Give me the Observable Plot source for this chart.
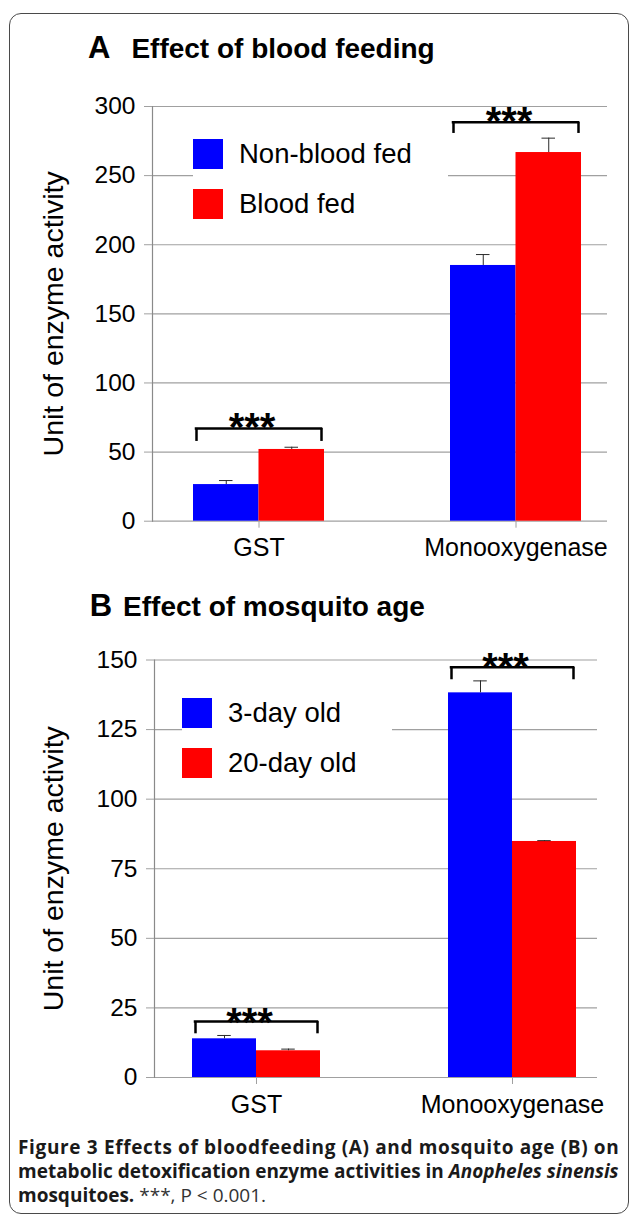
<!DOCTYPE html>
<html><head><meta charset="utf-8">
<script src="https://cdn.jsdelivr.net/npm/d3@7"></script>
<script src="https://cdn.jsdelivr.net/npm/@observablehq/plot@0.6"></script>
<style>
html,body{margin:0;padding:0;background:#fff;}
#page{position:relative;width:630px;height:1217px;overflow:hidden;font-family:"Liberation Sans",Arial,sans-serif;}
.frame{position:absolute;left:9px;top:13px;width:620px;height:1201px;border:1.5px solid #4a4a4a;border-radius:12px;box-sizing:border-box;}
.title{position:absolute;font-weight:bold;font-size:31px;line-height:1;color:#000;white-space:nowrap;}
.title span{font-size:28px;}
.chart{position:absolute;left:0;}
.chart svg{overflow:visible;}
.chart g[aria-label="y-axis label"]{font-size:28.5px;}
.leg{position:absolute;background:#fff;padding:14px 36px 0 0;}
.leg .lega-swatches,.leg .legb-swatches{font-family:"Liberation Sans",Arial,sans-serif;font-size:27.5px;color:#000;margin:0;}
.leg .lega-swatch,.leg .legb-swatch{padding-bottom:20px;}
.leg .lega-swatch > svg,.leg .legb-swatch > svg{margin-right:16px;}
.leg .lega-swatch-label,.leg .legb-swatch-label{line-height:30px;overflow:visible;}
.caption{position:absolute;left:18px;top:1135px;font-family:"Open Sans",Lato,sans-serif;font-size:19px;line-height:24px;color:#1a1a1a;white-space:nowrap;font-weight:bold;}
.caption .l1{letter-spacing:0.65px;}
.caption .reg{font-weight:normal;color:#333;}
</style>
</head><body>
<div id="page">
  <div class="frame"></div>
  <div class="title" style="left:88px;top:32px;">A<span style="margin-left:21px;">Effect of blood feeding</span></div>
  <div class="title" style="left:89.7px;top:590.4px;">B<span style="margin-left:11px;">Effect of mosquito age</span></div>
  <div class="chart" id="chartA" style="top:80px;"></div>
  <div class="chart" id="chartB" style="top:634px;"></div>
  <div class="leg" id="legA" style="left:193px;top:125px;"></div>
  <div class="leg" id="legB" style="left:182px;top:684px;"></div>
  <div class="caption"><span class="l1">Figure 3 Effects of bloodfeeding (A) and mosquito age (B) on</span><br>metabolic detoxification enzyme activities in <i>Anopheles sinensis</i><br>mosquitoes. <span class="reg">***, P &lt; 0.001.</span></div>
</div>
<script>
// ---- data ----
const categories = ["GST", "Monooxygenase"];
const colors = ["#0000FF", "#FF0000"];

// Panel A: effect of blood feeding
const seriesA = ["Non-blood fed", "Blood fed"];
const nonBloodFed = [26.5, 185.0];
const nonBloodFedErr = [2.9, 7.9];
const bloodFed = [51.9, 266.7];
const bloodFedErr = [1.6, 10.4];
const bracketTopA = [67.1, 288.6];
const bracketBaseA = [57.7, 280.5];
const starTopA = [78.5, 300];
const ticksA = [0, 50, 100, 150, 200, 250, 300];

// Panel B: effect of mosquito age
const seriesB = ["3-day old", "20-day old"];
const day3 = [13.9, 138.2];
const day3Err = [1.2, 4.3];
const day20 = [9.6, 84.8];
const day20Err = [0.6, 0.3];
const bracketTopB = [20.1, 147.4];
const bracketBaseB = [15.7, 142.9];
const starTopB = [25.1, 152.6];
const ticksB = [0, 25, 50, 75, 100, 125, 150];

const signif = ["***", "***"];
const yLabel = "Unit of enzyme activity";
const FONT = '"Liberation Sans", Arial, sans-serif';

function panel(o) {
  const rows = [];
  categories.forEach((c, i) => {
    o.series.forEach((s, j) => rows.push({category: c, series: s, side: j, value: o.vals[j][i], err: o.errs[j][i]}));
  });
  const brackets = categories.map((c, i) => ({category: c, top: o.bTop[i], base: o.bBase[i], star: o.star[i], label: signif[i]}));
  const n = categories.length;
  const bw = (o.range[1] - o.range[0]) * (1 - o.pad) / (n - o.pad);
  const half = bw / 2, q = bw / 4, cap = 6.75;
  const left = rows.filter(d => d.side === 0), right = rows.filter(d => d.side === 1);
  const errStroke = "#2a2a2a", grid = "#a0a0a0";
  return Plot.plot({
    width: 630, height: o.height,
    marginLeft: o.ml, marginRight: o.mr, marginTop: o.mt, marginBottom: o.mb,
    style: {fontFamily: FONT, fontSize: "24.5px", background: "transparent", color: "#000"},
    x: {type: "band", domain: categories, range: o.range, paddingInner: o.pad, paddingOuter: 0, label: null},
    y: {domain: [0, o.yMax], label: null},
    color: {domain: o.series, range: colors},
    marks: [
      Plot.ruleY(o.ticks, {stroke: grid, strokeWidth: 1.2}),
      Plot.frame({anchor: "left", stroke: "#8a8a8a", strokeWidth: 1.2}),
      Plot.barY(left, {x: "category", y: "value", fill: "series", insetRight: half}),
      Plot.barY(right, {x: "category", y: "value", fill: "series", insetLeft: half}),
      Plot.ruleX(left, {x: "category", y1: "value", y2: d => d.value + d.err, dx: -q, stroke: errStroke}),
      Plot.ruleX(right, {x: "category", y1: "value", y2: d => d.value + d.err, dx: q, stroke: errStroke}),
      Plot.tickY(left, {x: "category", y: d => d.value + d.err, insetLeft: q - cap, insetRight: bw - q - cap, stroke: errStroke}),
      Plot.tickY(right, {x: "category", y: d => d.value + d.err, insetLeft: bw - q - cap, insetRight: q - cap, stroke: errStroke}),
      Plot.ruleY(brackets, {x1: "category", x2: "category", y: "top", insetLeft: 3, insetRight: 3, stroke: "#000", strokeWidth: 2.5, strokeLinecap: "square"}),
      Plot.ruleX(brackets, {x: "category", y1: "base", y2: "top", dx: -(half - 3), stroke: "#000", strokeWidth: 2.5}),
      Plot.ruleX(brackets, {x: "category", y1: "base", y2: "top", dx: half - 3, stroke: "#000", strokeWidth: 2.5}),
      Plot.text(brackets, {x: "category", y: "star", text: "label", lineAnchor: "top", fontSize: 40, fontWeight: "bold", dx: -7, fill: "#000"}),
      Plot.axisY({ticks: o.ticks, tickSize: 8, tickPadding: 9, stroke: grid, fill: "#000", label: yLabel, labelAnchor: "center", labelOffset: o.ml - 42.7, labelArrow: "none"}),
      Plot.axisX({tickSize: 7, tickPadding: 10.5, fontSize: 25, stroke: grid, fill: "#000", label: null})
    ]
  });
}

function legend(series, cls) {
  return Plot.legend({color: {domain: series, range: colors}, legend: "swatches", swatchSize: 30, columns: 1, className: cls});
}

document.getElementById("chartA").appendChild(panel({
  series: seriesA, vals: [nonBloodFed, bloodFed], errs: [nonBloodFedErr, bloodFedErr],
  bTop: bracketTopA, bBase: bracketBaseA, star: starTopA, ticks: ticksA, yMax: 300,
  range: [193, 581], pad: 0.4903, ml: 152, mr: 23, mt: 26, mb: 59.3, height: 500
}));
document.getElementById("chartB").appendChild(panel({
  series: seriesB, vals: [day3, day20], errs: [day3Err, day20Err],
  bTop: bracketTopB, bBase: bracketBaseB, star: starTopB, ticks: ticksB, yMax: 150,
  range: [192, 576], pad: 0.5, ml: 154, mr: 33, mt: 25.5, mb: 59, height: 502
}));
document.getElementById("legA").appendChild(legend(seriesA, "lega"));
document.getElementById("legB").appendChild(legend(seriesB, "legb"));
</script>
</body></html>
